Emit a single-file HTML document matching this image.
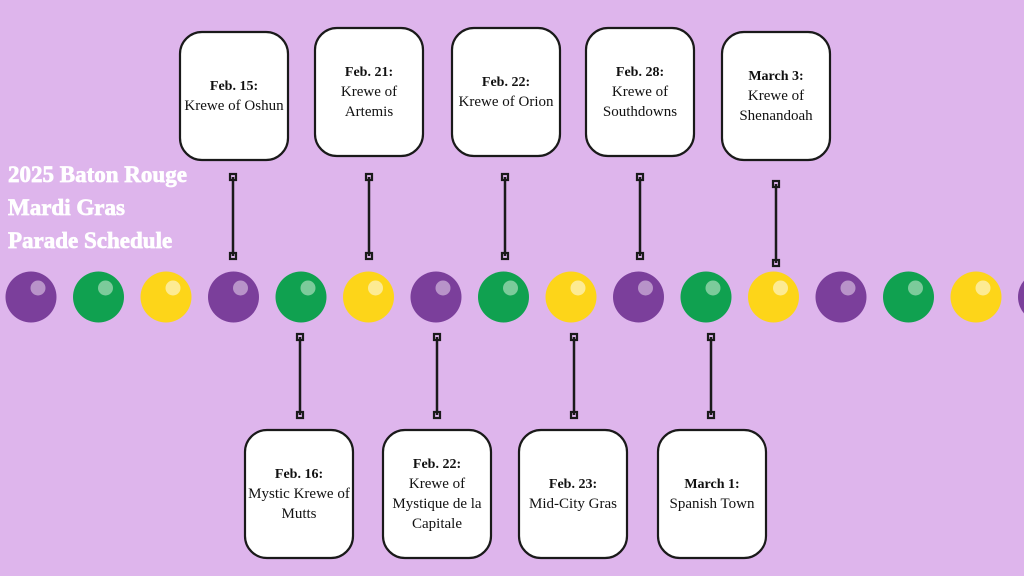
<!DOCTYPE html>
<html><head><style>
html,body{margin:0;padding:0;background:#DEB5EC;}
svg{display:block}
text{font-family:"Liberation Serif",serif;}
.t{font-weight:700;font-size:23px;fill:#fff;stroke:#fff;stroke-width:0.7px;}
</style></head><body>
<svg width="1024" height="576" viewBox="0 0 1024 576">
<rect width="1024" height="576" fill="#DEB5EC"/>
<text class="t" x="8" y="182" style="font-weight:bold">2025 Baton Rouge</text>
<text class="t" x="8" y="215" style="font-weight:bold">Mardi Gras</text>
<text class="t" x="8" y="248" style="font-weight:bold">Parade Schedule</text>
<g id="beads"></g>
<g id="boxes" stroke="#1a1a1a" stroke-width="2.2" fill="#fff"></g>
</svg>
<script>
(function(){
var ns="http://www.w3.org/2000/svg";
function el(p,t,a,txt){var e=document.createElementNS(ns,t);for(var k in a)e.setAttribute(k,a[k]);if(txt)e.textContent=txt;p.appendChild(e);return e;}
var beads=document.getElementById('beads');
var cols=[["#7B3F9B","#B893C9"],["#10A150","#7CCB9B"],["#FDD519","#FDEB93"]];
for(var i=0;i<16;i++){var cx=31+i*67.5,c=cols[i%3];
el(beads,'circle',{cx:cx,cy:297,r:25.5,fill:c[0]});
el(beads,'circle',{cx:cx+7,cy:288,r:7.5,fill:c[1]});}
var svg=document.querySelector('svg');
var g=document.getElementById('boxes');
function box(x,y,lines,cx,t,b){
el(g,'rect',{x:x,y:y,width:108,height:128,rx:22,ry:22});
el(g,'line',{x1:cx,y1:t,x2:cx,y2:b,'stroke-width':2.5});
el(g,'rect',{x:cx-3,y:t-3,width:6,height:6,fill:'none'});
el(g,'rect',{x:cx-3,y:b-3,width:6,height:6,fill:'none'});
var n=lines.length,sy=y+64-(n-1)*10+4;
for(var j=0;j<n;j++){var tx=el(svg,'text',{x:x+54,y:sy+j*20,'text-anchor':'middle','font-size':15,fill:'#111'},lines[j]);if(j==0)tx.setAttribute('style','font-weight:bold;font-size:14px');}
}
box(180,32,["Feb. 15:","Krewe of Oshun"],233,177,256);
box(315,28,["Feb. 21:","Krewe of","Artemis"],369,177,256);
box(452,28,["Feb. 22:","Krewe of Orion"],505,177,256);
box(586,28,["Feb. 28:","Krewe of","Southdowns"],640,177,256);
box(722,32,["March 3:","Krewe of","Shenandoah"],776,184,263);
box(245,430,["Feb. 16:","Mystic Krewe of","Mutts"],300,337,415);
box(383,430,["Feb. 22:","Krewe of","Mystique de la","Capitale"],437,337,415);
box(519,430,["Feb. 23:","Mid-City Gras"],574,337,415);
box(658,430,["March 1:","Spanish Town"],711,337,415);
})();
</script>
</body></html>
